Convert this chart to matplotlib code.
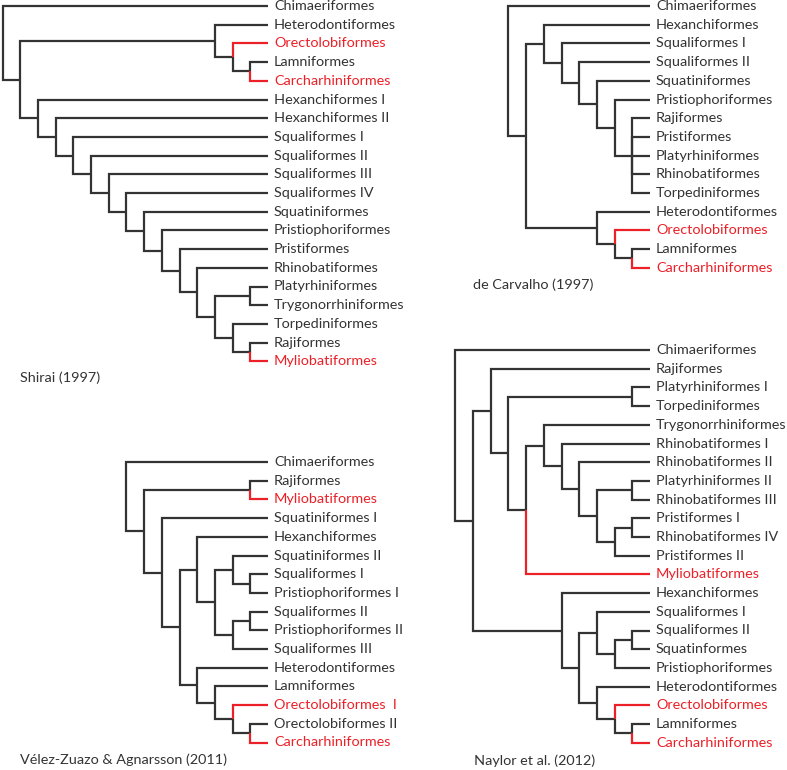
import matplotlib.pyplot as plt

# four cladograms as newick strings
shirai = ("(Chimaeriformes,((Heterodontiformes,(Orectolobiformes,(Lamniformes,Carcharhiniformes))),"
          "(Hexanchiformes I,(Hexanchiformes II,(Squaliformes I,(Squaliformes II,(Squaliformes III,"
          "(Squaliformes IV,(Squatiniformes,(Pristiophoriformes,(Pristiformes,(Rhinobatiformes,"
          "((Platyrhiniformes,Trygonorrhiniformes),(Torpediniformes,(Rajiformes,Myliobatiformes)))))))))))))))")
carvalho = ("(Chimaeriformes,((Hexanchiformes,(Squaliformes I,(Squaliformes II,(Squatiniformes,"
            "(Pristiophoriformes,(Rajiformes,Pristiformes,Platyrhiniformes,Rhinobatiformes,Torpediniformes)))))),"
            "(Heterodontiformes,(Orectolobiformes,(Lamniformes,Carcharhiniformes)))))")
velez = ("(Chimaeriformes,((Rajiformes,Myliobatiformes),(Squatiniformes I,((Hexanchiformes,"
         "((Squatiniformes II,(Squaliformes I,Pristiophoriformes I)),((Squaliformes II,Pristiophoriformes II),"
         "Squaliformes III))),(Heterodontiformes,(Lamniformes,(Orectolobiformes  I,"
         "(Orectolobiformes II,Carcharhiniformes))))))))")
naylor = ("(Chimaeriformes,((Rajiformes,((Platyrhiniformes I,Torpediniformes),((Trygonorrhiniformes,"
          "(Rhinobatiformes I,(Rhinobatiformes II,((Platyrhiniformes II,Rhinobatiformes III),"
          "((Pristiformes I,Rhinobatiformes IV),Pristiformes II))))),Myliobatiformes))),"
          "(Hexanchiformes,((Squaliformes I,((Squaliformes II,Squatinformes),Pristiophoriformes)),"
          "(Heterodontiformes,(Orectolobiformes,(Lamniformes,Carcharhiniformes)))))))")

titles = ["Shirai (1997)", "de Carvalho (1997)", "Vélez-Zuazo & Agnarsson (2011)", "Naylor et al. (2012)"]
red_taxa = ["Orectolobiformes", "Orectolobiformes  I", "Carcharhiniformes", "Myliobatiformes"]

BLACK = "#333333"
RED = "#ec2027"
FS = 10.4
plt.rcParams['font.family'] = ['Lato', 'DejaVu Sans']


def parse(s):
    pos = 0

    def node():
        nonlocal pos
        if s[pos] == "(":
            pos += 1
            kids = [node()]
            while s[pos] == ",":
                pos += 1
                kids.append(node())
            pos += 1
            return kids
        j = pos
        while s[pos] not in ",()":
            pos += 1
        return s[j:pos]
    return node()


def draw(ax, newick, tip_x, top_y, step=17.7, row=18.7):
    tree = parse(newick)
    count = [0]

    def place(t):
        if isinstance(t, str):
            y = top_y + row * count[0]
            count[0] += 1
            c = RED if t in red_taxa else BLACK
            ax.text(tip_x + 6, y, t, color=c, fontsize=FS, va="center", ha="left")
            return tip_x, y, 0
        kids = [place(k) for k in t]
        h = max(k[2] for k in kids) + 1
        x = tip_x - step * h
        y = (kids[0][1] + kids[-1][1]) / 2
        for k, sub in zip(kids, t):
            red = isinstance(sub, str) and sub in red_taxa
            ax.plot([x, x, k[0]], [y, k[1], k[1]], color=RED if red else BLACK,
                    lw=1.6, solid_joinstyle="miter", solid_capstyle="butt", zorder=3 if red else 2)
        return x, y, h
    place(tree)


fig = plt.figure(figsize=(7.87, 7.70), dpi=100)
ax = fig.add_axes([0, 0, 1, 1])
ax.set_xlim(0, 787)
ax.set_ylim(770, 0)
ax.axis("off")

draw(ax, shirai, 268, 6)
draw(ax, carvalho, 650, 6)
draw(ax, velez, 268, 462)
draw(ax, naylor, 650, 350)

ax.text(20, 378, titles[0], fontsize=FS, va="center", color=BLACK)
ax.text(473, 285, titles[1], fontsize=FS, va="center", color=BLACK)
ax.text(20, 760, titles[2], fontsize=FS, va="center", color=BLACK)
ax.text(474, 761, titles[3], fontsize=FS, va="center", color=BLACK)

fig.savefig("out.png", dpi=100)
